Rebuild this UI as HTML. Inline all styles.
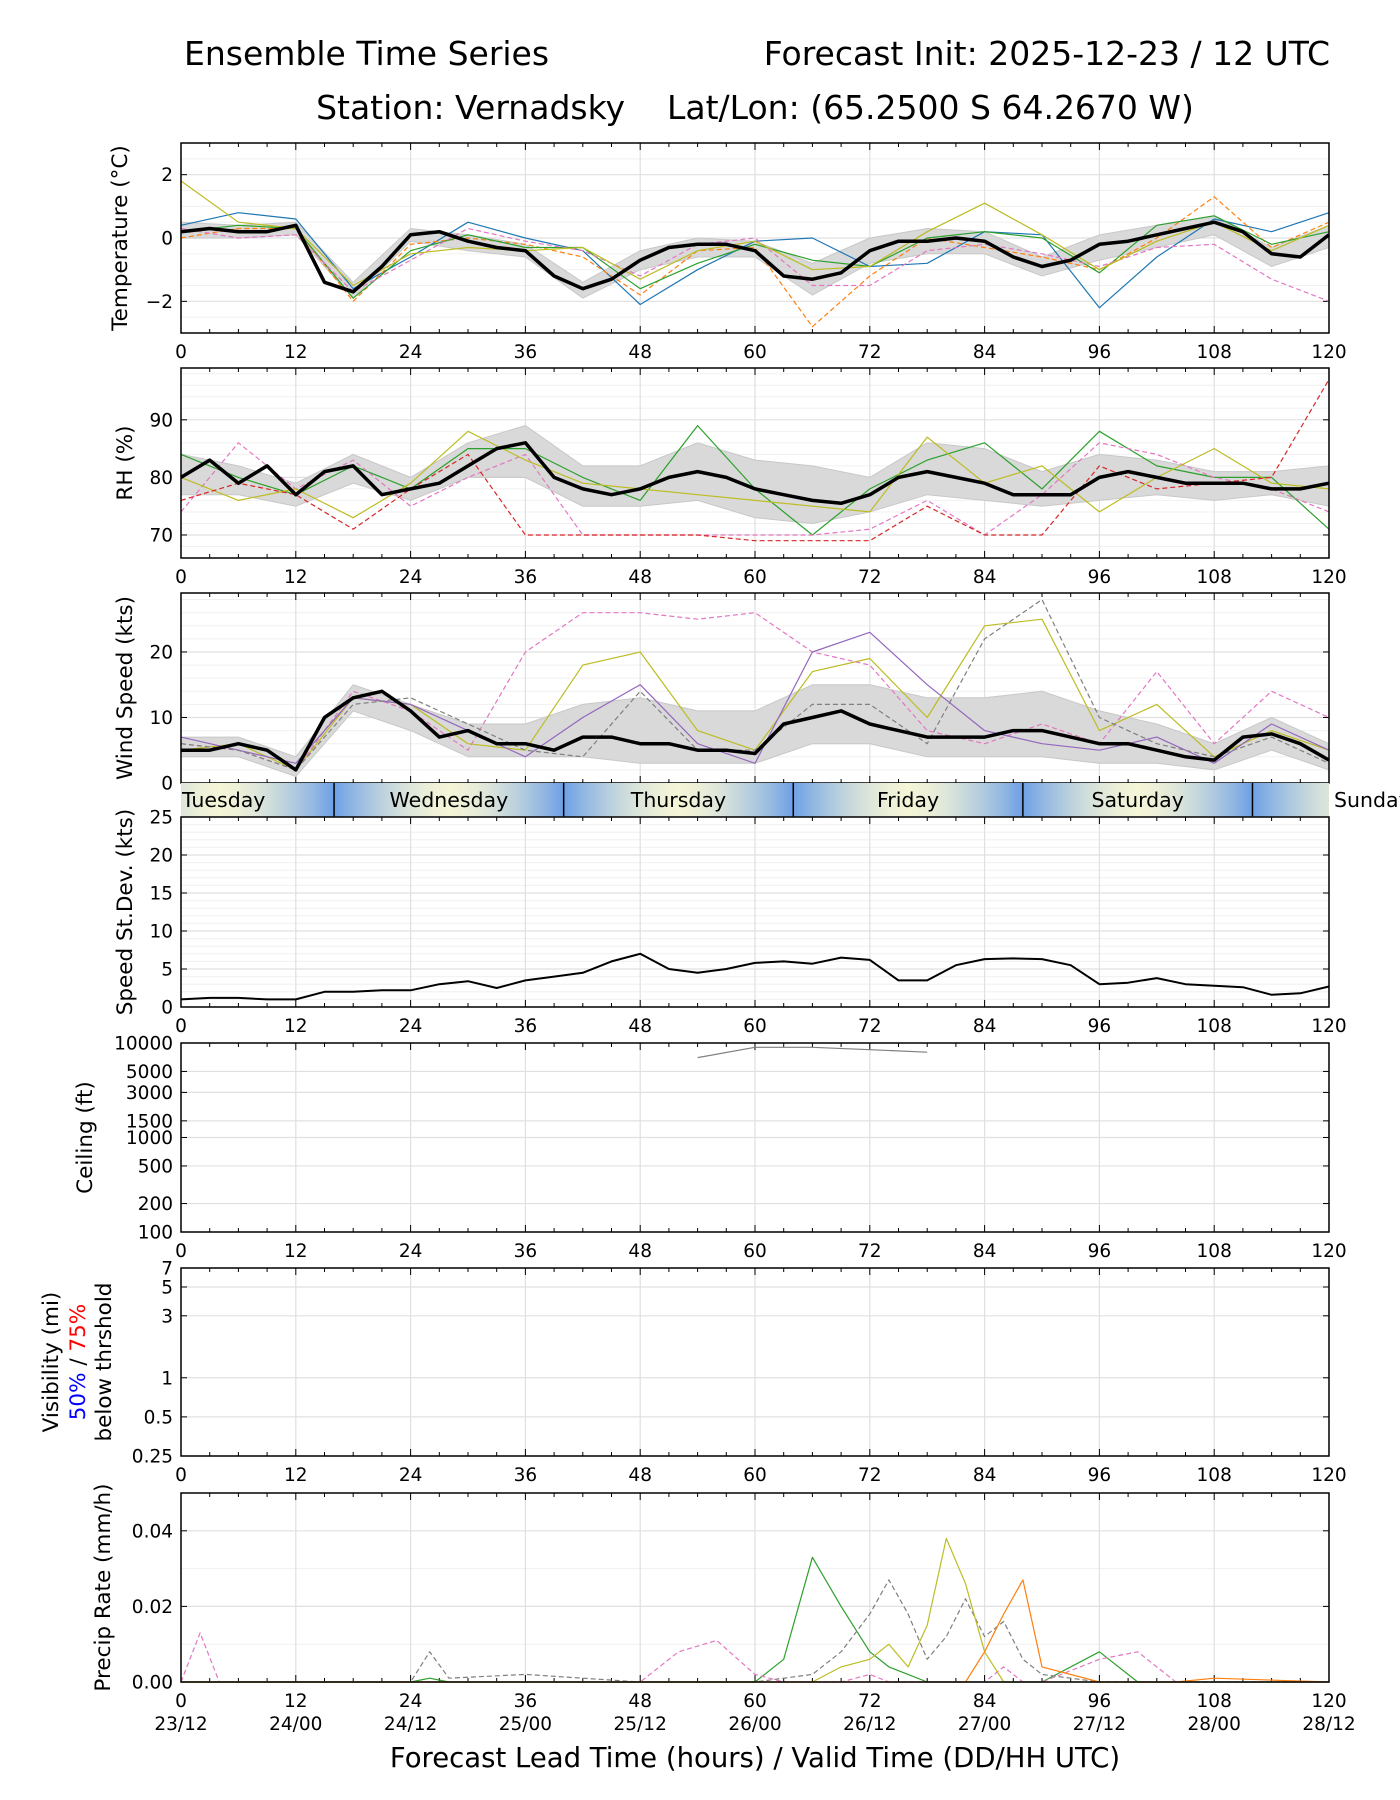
<!DOCTYPE html>
<html><head><meta charset="utf-8">
<style>
body{margin:0;background:#fff;}
svg{display:block;font-family:"DejaVu Sans","Liberation Sans",sans-serif;}
</style></head>
<body>
<svg id="fig" width="1400" height="1800" viewBox="0 0 1400 1800" xmlns="http://www.w3.org/2000/svg">
<text x="184" y="65" font-size="33">Ensemble Time Series</text>
<text x="1330" y="65" font-size="33" text-anchor="end">Forecast Init: 2025-12-23 / 12 UTC</text>
<text x="755" y="119" font-size="33" text-anchor="middle">Station: Vernadsky &#160;&#160;&#160;Lat/Lon: (65.2500 S 64.2670 W)</text>
<g id="plots"></g>
<text x="755" y="1767" font-size="27.5" text-anchor="middle">Forecast Lead Time (hours) / Valid Time (DD/HH UTC)</text>
</svg>
<script>
// ---------- data ----------
const hours3 = [0,3,6,9,12,15,18,21,24,27,30,33,36,39,42,45,48,51,54,57,60,63,66,69,72,75,78,81,84,87,90,93,96,99,102,105,108,111,114,117,120];
const hours6 = [0,6,12,18,24,30,36,42,48,54,60,66,72,78,84,90,96,102,108,114,120];
const tempMean = [0.2,0.3,0.2,0.2,0.4,-1.4,-1.7,-0.9,0.1,0.2,-0.1,-0.3,-0.4,-1.2,-1.6,-1.3,-0.7,-0.3,-0.2,-0.2,-0.4,-1.2,-1.3,-1.1,-0.4,-0.1,-0.1,0.0,-0.1,-0.6,-0.9,-0.7,-0.2,-0.1,0.1,0.3,0.5,0.2,-0.5,-0.6,0.1];
const tempLow = [0,0,0.1,-1.9,-0.1,-0.4,-0.6,-1.9,-1,-0.6,-0.6,-1.8,-0.8,-0.5,-0.5,-1.2,-0.7,-0.3,0.1,-0.9,-0.3];
const tempHigh = [0.5,0.4,0.5,-1.4,0.3,0.1,-0.2,-1.4,-0.4,0,-0.1,-0.8,0,0.3,0.2,-0.6,0.1,0.4,0.7,-0.3,0.4];
const tempM1 = [0.4,0.8,0.6,-1.6,-0.6,0.5,0,-0.4,-2.1,-1,-0.1,0,-0.9,-0.8,0.2,0.1,-2.2,-0.6,0.6,0.2,0.8];
const tempM2 = [0,0.3,0.3,-2,-0.2,0,-0.2,-0.6,-1.8,-0.4,-0.3,-2.8,-1.2,0,-0.3,-0.6,-1,0,1.3,-0.3,0.5];
const tempM3 = [0.2,0.4,0.3,-1.9,-0.4,0.1,-0.3,-0.3,-1.6,-0.8,-0.2,-0.7,-0.9,0,0.2,0,-1.1,0.4,0.7,-0.2,0.2];
const tempM4 = [0.3,0,0.1,-1.7,-0.7,0.3,-0.1,-0.4,-1.2,-0.2,0,-1.5,-1.5,-0.4,-0.2,-0.5,-0.9,-0.3,-0.2,-1.3,-2];
const tempM5 = [1.8,0.5,0.3,-1.5,-0.5,-0.3,-0.4,-0.3,-1.3,-0.4,-0.1,-1,-0.9,0.2,1.1,0.1,-1,-0.1,0.5,-0.4,0.4];

const rhMean = [80,83,79,82,77,81,82,77,78,79,82,85,86,80,78,77,78,80,81,80,78,77,76,75.5,77,80,81,80,79,77,77,77,80,81,80,79,79,79,78,78,79];
const rhLow = [77,77,75,79,76,80,80,75,75,76,73,72,74,77,76,75,76,77,76,77,75];
const rhHigh = [84,82,79,84,80,86,89,82,82,86,83,82,80,86,85,81,84,83,81,81,82];
const rhM1 = [84,80,77,82,78,85,85,80,76,89,78,70,78,83,86,78,88,82,80,80,71];
const rhM2 = [74,86,78,83,75,80,84,70,70,70,70,70,71,76,70,77,86,84,80,78,74];
const rhM3 = [80,76,78,73,79,88,83,79,78,77,76,75,74,87,79,82,74,80,85,79,78];
const rhM4 = [76,79,77,71,78,84,70,70,70,70,69,69,69,75,70,70,82,78,79,80,97];

const windMean = [5,5,6,5,2,10,13,14,11,7,8,6,6,5,7,7,6,6,5,5,4.5,9,10,11,9,8,7,7,7,8,8,7,6,6,5,4,3.5,7,7.5,6,3.5];
const windLow = [4,4,1,11,8,4,4,4,3,3,3,6,6,4,4,4,3,3,2,5,2];
const windHigh = [7,7,4,15,12,9,9,12,13,11,11,15,15,13,13,14,11,9,6,10,6];
const windM1 = [5,6,2,13,12,6,5,18,20,8,5,17,19,10,24,25,8,12,4,8,5];
const windM2 = [6,5,2,14,11,5,20,26,26,25,26,20,18,8,6,9,6,17,6,14,10];
const windM3 = [7,5,3,13,12,8,4,10,15,6,3,20,23,15,8,6,5,7,3,9,5];
const windM4 = [6,5,2,12,13,9,5,4,14,5,5,12,12,6,22,28,10,6,4,7,3];

const sdMean = [1,1.2,1.2,1,1,2,2,2.2,2.2,3,3.4,2.5,3.5,4,4.5,6,7,5,4.5,5,5.8,6,5.7,6.5,6.2,3.5,3.5,5.5,6.3,6.4,6.3,5.5,3,3.2,3.8,3,2.8,2.6,1.6,1.8,2.7];

const ceilM1 = [null,null,null,null,9000,null,null,null,null,7000,9000,9000,8500,8000,null,null,null,null,null,null,null];

const precipHours = [0,2,4,24,26,28,36,48,52,56,60,63,66,69,72,74,76,78,80,82,84,86,88,90,96,100,104,108,120];
const precipM1 = [0,0,0,0,0.001,0,0,0,0,0,0,0.006,0.033,0.02,0.008,0.004,0.002,0,0,0,0,0,0,0,0.008,0,0,0,0];
const precipM2 = [0,0,0,0,0.008,0.001,0.002,0,0,0,0,0.001,0.002,0.008,0.018,0.027,0.018,0.006,0.012,0.022,0.012,0.016,0.006,0.002,0,0,0,0,0];
const precipM3 = [0,0,0,0,0,0,0,0,0,0,0,0,0,0.004,0.006,0.01,0.004,0.015,0.038,0.026,0.008,0,0,0,0,0,0,0,0];
const precipM4 = [0,0.013,0,0,0,0,0,0,0.008,0.011,0.002,0,0,0,0.002,0,0,0,0,0,0,0.004,0,0,0.006,0.008,0,0,0];
const precipM5 = [0,0,0,0,0,0,0,0,0,0,0,0,0,0,0,0,0,0,0,0,0.008,0.018,0.027,0.004,0,0,0,0.001,0];

const dayNames = ["Tuesday","Wednesday","Thursday","Friday","Saturday","Sunday"];
const dayStarts = [0,16,40,64,88,112];
const dateLabels = ["23/12","24/00","24/12","25/00","25/12","26/00","26/12","27/00","27/12","28/00","28/12"];
const xTicks = [0,12,24,36,48,60,72,84,96,108,120];

// ---------- drawing ----------
const NS="http://www.w3.org/2000/svg";
const root=document.getElementById('plots');
const X0=181,X1=1329;
const xs=h=>X0+(h/120)*(X1-X0);
const C=['#1f77b4','#ff7f0e','#2ca02c','#e377c2','#bcbd22','#d62728','#7f7f7f','#17becf','#9467bd','#8c564b'];
const TF=18.5, LF=21.5;
function el(tag,attrs,parent){const e=document.createElementNS(NS,tag);for(const k in attrs)e.setAttribute(k,attrs[k]);(parent||root).appendChild(e);return e;}
function txt(x,y,s,size,anchor,parent,fill){const t=el('text',{x:x,y:y,'font-size':size,'text-anchor':anchor||'middle',fill:fill||'#000'},parent);t.textContent=s;return t;}

function panel(name,top,bot,ys,yticks,ylab,minorY){
  const g=el('g',{});
  
  
  (minorY||[]).forEach(v=>{const y=ys(v);el('line',{x1:X0,x2:X1,y1:y,y2:y,stroke:'#f0f0f0','stroke-width':1},g);});
  yticks.forEach(v=>{const y=ys(v);el('line',{x1:X0,x2:X1,y1:y,y2:y,stroke:'#e0e0e0','stroke-width':1.2},g);
    el('line',{x1:X0,x2:X0+6,y1:y,y2:y,stroke:'#000'},g);el('line',{x1:X1-6,x2:X1,y1:y,y2:y,stroke:'#000'},g);});
  xTicks.forEach(h=>{const x=xs(h);el('line',{x1:x,x2:x,y1:top,y2:bot,stroke:'#e0e0e0','stroke-width':1.2},g);
    el('line',{x1:x,x2:x,y1:bot-7,y2:bot,stroke:'#000'},g);el('line',{x1:x,x2:x,y1:top,y2:top+7,stroke:'#000'},g);});
  for(let h=3;h<120;h+=3){if(h%12){const x=xs(h);el('line',{x1:x,x2:x,y1:bot-4,y2:bot,stroke:'#000'},g);el('line',{x1:x,x2:x,y1:top,y2:top+4,stroke:'#000'},g);}}
  const lg=el('g',{},g);
  return {g:g,lg:lg,draw:function(){el('rect',{x:X0,y:top,width:X1-X0,height:bot-top,fill:'none',stroke:'#000','stroke-width':1.5},g);}};
}
function yTickLabels(g,ys,vals,labels){vals.forEach((v,i)=>{const t=txt(X0-8,ys(v)+6.5,labels[i],TF,'end',g);});}
function xTickLabels(g,bot){xTicks.forEach(h=>{const t=txt(xs(h),bot+25,String(h),TF,'middle',g);});}
function ylabel(g,x,cy,s){const t=txt(x,cy,s,LF,'middle',g);t.setAttribute('transform','rotate(-90 '+x+' '+cy+')');return t;}
function line(g,hs,vals,ys,color,w,dash,name){let d='';let pen=false;
  hs.forEach((h,i)=>{const v=vals[i];if(v===null||v===undefined){pen=false;return;}d+=(pen?'L':'M')+xs(h).toFixed(1)+','+ys(v).toFixed(1);pen=true;});
  const p=el('path',{d:d,fill:'none',stroke:color,'stroke-width':w,'stroke-dasharray':dash||'none','stroke-linejoin':'round'},g);
  return p;}
function band(g,hs,lo,hi,ys){let d='';hs.forEach((h,i)=>{d+=(i?'L':'M')+xs(h).toFixed(1)+','+ys(hi[i]).toFixed(1);});
  for(let i=hs.length-1;i>=0;i--)d+='L'+xs(hs[i]).toFixed(1)+','+ys(lo[i]).toFixed(1);d+='Z';
  const p=el('path',{d:d,fill:'#d9d9d9',stroke:'#c8c8c8','stroke-width':1},g);}
function lin(top,bot,lo,hi){return v=>bot-(v-lo)/(hi-lo)*(bot-top);}
function logs(top,bot,lo,hi){return v=>bot-(Math.log(v)-Math.log(lo))/(Math.log(hi)-Math.log(lo))*(bot-top);}

// Temperature
(function(){const top=143,bot=333,ys=lin(top,bot,-3,3);
 const P=panel('temperature',top,bot,ys,[-2,0,2],'',[-2.5,-1.5,-1,-0.5,0.5,1,1.5,2.5]);
 band(P.lg,hours6,tempLow,tempHigh,ys);
 [tempM1,tempM2,tempM3,tempM4,tempM5].forEach((m,i)=>line(P.lg,hours6,m,ys,C[i],1.2,i%2?'5,3':null,'temperature-member'));
 line(P.lg,hours3,tempMean,ys,'#000',3.5,null,'temperature-mean-line');
 P.draw();yTickLabels(P.g,ys,[-2,0,2],['−2','0','2']);xTickLabels(P.g,bot);ylabel(P.g,127,(top+bot)/2,'Temperature (°C)');})();

// RH
(function(){const top=368,bot=558,ys=lin(top,bot,66,99);
 const P=panel('rh',top,bot,ys,[70,80,90],'',[68,72,74,76,78,82,84,86,88,92,94,96,98]);
 band(P.lg,hours6,rhLow,rhHigh,ys);
 [rhM1,rhM2,rhM3,rhM4].forEach((m,i)=>line(P.lg,hours6,m,ys,C[i+2],1.2,i%2?'5,3':null,'rh-member'));
 line(P.lg,hours3,rhMean,ys,'#000',3.5,null,'rh-mean-line');
 P.draw();yTickLabels(P.g,ys,[70,80,90],['70','80','90']);xTickLabels(P.g,bot);ylabel(P.g,132,(top+bot)/2,'RH (%)');})();

// Wind
(function(){const top=593,bot=783,ys=lin(top,bot,0,29);
 const P=panel('wind',top,bot,ys,[0,10,20],'',[2,4,6,8,12,14,16,18,22,24,26,28]);
 band(P.lg,hours6,windLow,windHigh,ys);
 [windM1,windM2,windM3,windM4].forEach((m,i)=>line(P.lg,hours6,m,ys,[C[4],C[3],C[8],C[6]][i],1.2,i%2?'5,3':null,'wind-member'));
 line(P.lg,hours3,windMean,ys,'#000',3.5,null,'wind-mean-line');
 P.draw();yTickLabels(P.g,ys,[0,10,20],['0','10','20']);ylabel(P.g,132,(top+bot)/2,'Wind Speed (kts)');})();

// Day bar
(function(){const top=783,bot=817;const g=el('g',{});
 
 const defs=el('defs',{},g);const lg=el('linearGradient',{id:'dayg',x1:'0',x2:'1',y1:'0',y2:'0'},defs);
 for(let h=0;h<=120;h+=2){const ph=((h-16)%24+24)%24;const t=Math.abs(ph-12)/12;
  const c1=[245,245,215],c2=[110,160,230];const c=c1.map((v,k)=>Math.round(v+(c2[k]-v)*Math.pow(t,1.6)));
  el('stop',{offset:(h/120).toFixed(3),'stop-color':'rgb('+c.join(',')+')'},lg);}
 el('rect',{x:X0,y:top,width:X1-X0,height:bot-top,fill:'url(#dayg)'},g);
 dayStarts.forEach((s,i)=>{if(s>0)el('line',{x1:xs(s),x2:xs(s),y1:top,y2:bot,stroke:'#000','stroke-width':1.5},g);
  const e=i<dayStarts.length-1?dayStarts[i+1]:120;let cx=(xs(s)+xs(e))/2;let anchor='middle';
  if(i===0){cx=X0+1;anchor='start';}if(i===dayStarts.length-1){cx=X1+5;anchor='start';}
  const t=txt(cx,top+24,dayNames[i],20.5,anchor,g);});})();

// StDev
(function(){const top=817,bot=1007,ys=lin(top,bot,0,25);
 const minors=[];for(let v=1;v<25;v++)if(v%5)minors.push(v);
 const P=panel('speed-stdev',top,bot,ys,[0,5,10,15,20,25],'',minors);
 line(P.lg,hours3,sdMean,ys,'#000',2,null,'speed-stdev-line');
 P.draw();yTickLabels(P.g,ys,[0,5,10,15,20,25],['0','5','10','15','20','25']);xTickLabels(P.g,bot);ylabel(P.g,132,(top+bot)/2,'Speed St.Dev. (kts)');})();

// Ceiling
(function(){const top=1043,bot=1232,ys=logs(top,bot,100,10000);const tv=[100,200,500,1000,1500,3000,5000,10000];
 const P=panel('ceiling',top,bot,ys,tv,'',[]);
 line(P.lg,hours6,ceilM1,ys,'#7f7f7f',1.2,null,'ceiling-member');
 P.draw();yTickLabels(P.g,ys,tv,tv.map(String));xTickLabels(P.g,bot);ylabel(P.g,92,(top+bot)/2,'Ceiling (ft)');})();

// Visibility
(function(){const top=1268,bot=1456,ys=logs(top,bot,0.25,7);const tv=[0.25,0.5,1,3,5,7];
 const P=panel('visibility',top,bot,ys,tv,'',[]);
 P.draw();yTickLabels(P.g,ys,tv,tv.map(String));xTickLabels(P.g,bot);
 ylabel(P.g,58,(top+bot)/2,'Visibility (mi)');
 const cx=85,cy=(top+bot)/2;const t=el('text',{x:cx,y:cy,'font-size':LF,'text-anchor':'middle',transform:'rotate(-90 '+cx+' '+cy+')'},P.g);
 
 const a=el('tspan',{fill:'#0000ff'},t);a.textContent='50%';const b=el('tspan',{fill:'#000'},t);b.textContent=' / ';const c=el('tspan',{fill:'#ff0000'},t);c.textContent='75%';
 ylabel(P.g,111,cy,'below thrshold');})();

// Precip
(function(){const top=1493,bot=1682,ys=lin(top,bot,0,0.05);const tv=[0,0.02,0.04];
 const P=panel('precip',top,bot,ys,tv,'',[0.01,0.03]);
 [precipM1,precipM2,precipM3,precipM4,precipM5].forEach((m,i)=>line(P.lg,precipHours,m,ys,[C[2],C[6],C[4],C[3],C[1]][i],1.2,i%2?'5,3':null,'precip-member'));
 P.draw();yTickLabels(P.g,ys,tv,['0.00','0.02','0.04']);xTickLabels(P.g,bot);
 xTicks.forEach((h,i)=>{const t=txt(xs(h),bot+48,dateLabels[i],TF,'middle',P.g);});
 ylabel(P.g,110,(top+bot)/2,'Precip Rate (mm/h)');})();
</script>
</body></html>
